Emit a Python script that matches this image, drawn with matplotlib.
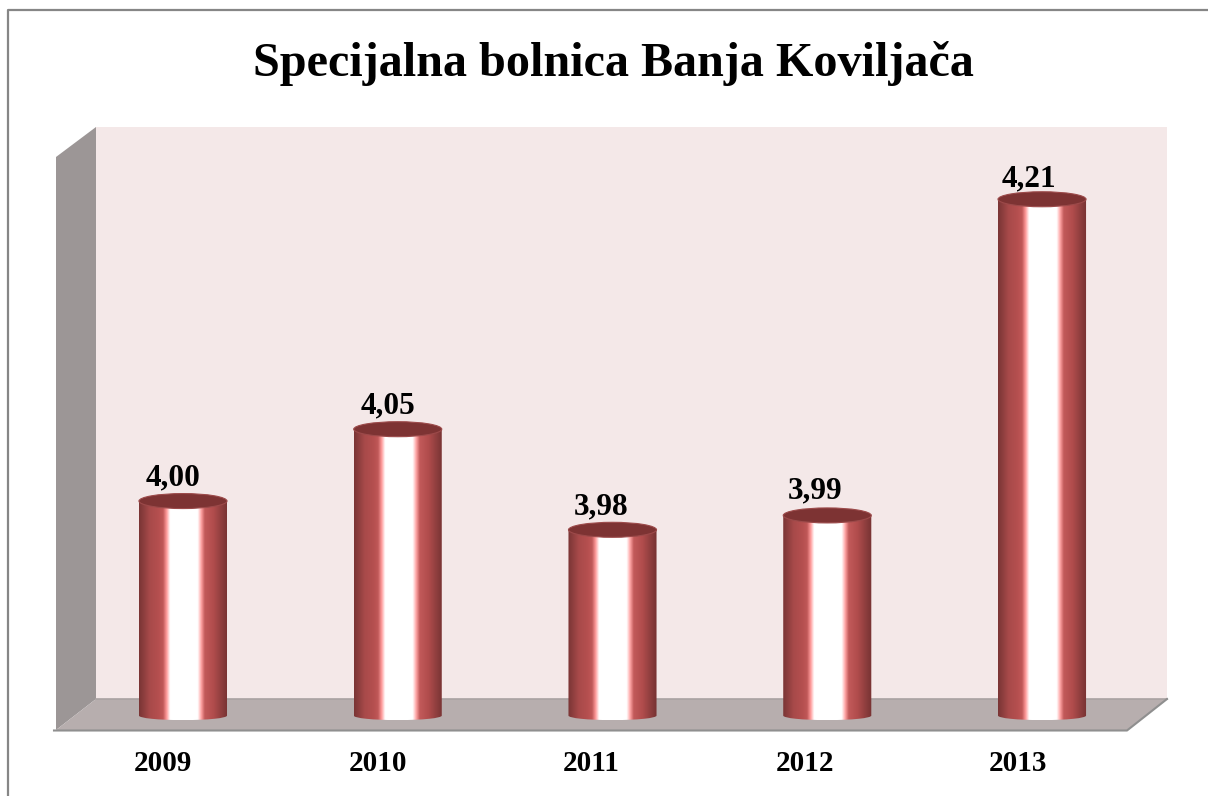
import matplotlib
matplotlib.use("Agg")
import matplotlib.pyplot as plt
import numpy as np
from matplotlib.colors import LinearSegmentedColormap
from matplotlib.patches import Ellipse, Polygon
from matplotlib.path import Path
from matplotlib.transforms import Affine2D, ScaledTranslation

years = ["2009", "2010", "2011", "2012", "2013"]
values = [4.00, 4.05, 3.98, 3.99, 4.21]
labels = ["4,00", "4,05", "3,98", "3,99", "4,21"]
title = "Specijalna bolnica Banja Koviljača"

W, H = 1208, 796
plt.rcParams["font.family"] = ["Liberation Serif", "DejaVu Serif"]
plt.rcParams["font.weight"] = "bold"

fig = plt.figure(figsize=(W / 100, H / 100), dpi=100, facecolor="white")

# backdrop in pixel coordinates: frame, walls and floor
bg = fig.add_axes([0, 0, 1, 1], zorder=0)
bg.set_xlim(0, W)
bg.set_ylim(H, 0)
bg.axis("off")
bg.add_patch(Polygon([(96, 127), (1167, 127), (1167, 699), (96, 699)], fc="#f4e8e8", ec="none"))
bg.add_patch(Polygon([(56, 157), (96, 127), (96, 699), (56, 730)], fc="#9c9696", ec="none"))
bg.add_patch(Polygon([(56, 730), (96, 699), (1167, 699), (1127, 730)], fc="#b7aeae", ec="none"))
bg.plot([96, 1167], [699, 699], color="#a9a2a2", lw=1.2)
bg.plot([54, 1127, 1167], [730.5, 730.5, 699], color="#8f8f8f", lw=1.5)
bg.plot([7.5, 7.5, W], [H, 10, 10], color="#868686", lw=1.6)
bg.text(613, 76, title, fontsize=34.7, ha="center", va="baseline", color="black")

# bars on real axes: 1437 px per unit, 3.84 sits on the floor edge
ax = fig.add_axes([75.6 / W, 1 - 731 / H, (1149.4 - 75.6) / W, (731 - 127.4) / H], zorder=1)
ax.patch.set_alpha(0)
for s in ax.spines.values():
    s.set_visible(False)

base = 3.8507
hw = 0.205
cap_h = 15 / 1437
foot_h = 4.5 / 1437
cmap = LinearSegmentedColormap.from_list("cyl", [
    (0.00, "#7a3535"), (0.05, "#8c3e3e"), (0.12, "#a84a4a"), (0.22, "#b54f4f"),
    (0.27, "#c05858"), (0.31, "#ff9a9a"), (0.35, "#ffffff"), (0.66, "#ffffff"),
    (0.70, "#ffa4a4"), (0.74, "#c25a5a"), (0.84, "#b04c4c"), (0.93, "#8e3e3e"),
    (1.00, "#763232"),
])
grad = np.linspace(0, 1, 512).reshape(1, -1)

x = np.arange(len(years))
for i, v in zip(x, values):
    im = ax.imshow(grad, cmap=cmap, aspect="auto", interpolation="bilinear",
                   extent=(i - hw, i + hw, base - foot_h, v), zorder=2)
    arc = Path.arc(180, 360).transformed(Affine2D().scale(hw, foot_h).translate(i, base))
    verts = np.vstack([arc.vertices, [(i + hw, v), (i - hw, v), (i - hw, base)]])
    codes = list(arc.codes) + [Path.LINETO, Path.LINETO, Path.LINETO]
    im.set_clip_path(Path(verts, codes), transform=ax.transData)
    ax.add_patch(Ellipse((i, v), 2 * hw, cap_h, fc="#7d3333", ec="#9c4a4a", lw=0.8, zorder=3))

offsets = zip([-10, -10, -11, -12, -13], [16, 16, 15, 17, 13])
for i, v, lab, (dx, dy) in zip(x, values, labels, offsets):
    ax.annotate(lab, (i, v), xytext=(dx, dy), textcoords="offset pixels",
                ha="center", va="baseline", fontsize=22.5, color="black", zorder=4)

ax.set_xlim(-0.5, 4.5)
ax.set_ylim(3.84, 4.26)
ax.set_yticks([])
ax.set_xticks(x, years, fontsize=21)
ax.tick_params(axis="x", length=0, pad=14)
for t, dx in zip(ax.get_xticklabels(), [-20, -20, -21, -22, -24]):
    t.set_transform(t.get_transform() + ScaledTranslation(dx / 100, 0, fig.dpi_scale_trans))

fig.savefig("out.png", dpi=100)
